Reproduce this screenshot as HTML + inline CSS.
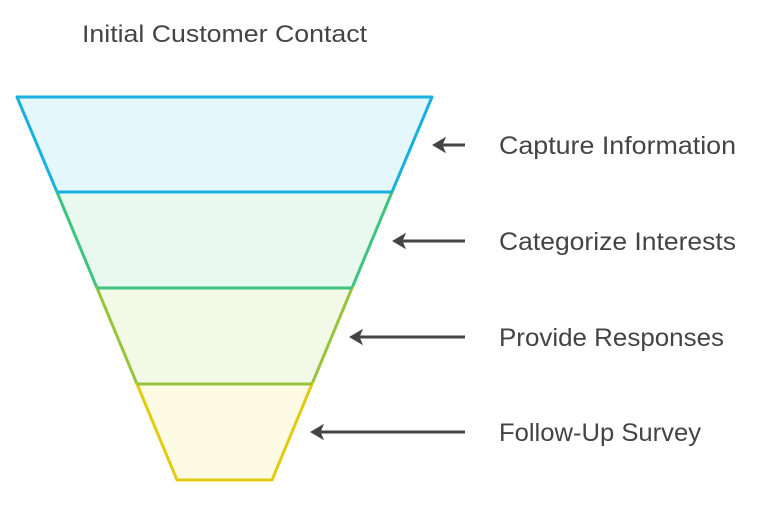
<!DOCTYPE html>
<html><head><style>
html,body{margin:0;padding:0;background:#fff;width:768px;height:514px;overflow:hidden}
</style></head><body>
<svg width="768" height="514" xmlns="http://www.w3.org/2000/svg" font-family="Liberation Sans, sans-serif">
<text x="82" y="42" font-size="24" fill="#444" textLength="285" lengthAdjust="spacingAndGlyphs">Initial Customer Contact</text>
<polygon points="17,97 432,97 392,192 57,192" fill="#e4f7fc" stroke="#19b0e0" stroke-width="3" stroke-linejoin="round"/>
<polygon points="57,192 392,192 352,288 97,288" fill="#e9f9f0" stroke="#3ec47e" stroke-width="3" stroke-linejoin="round"/>
<polygon points="97,288 352,288 312,384 137,384" fill="#f3f9e7" stroke="#97c53a" stroke-width="3" stroke-linejoin="round"/>
<polygon points="137,384 312,384 272,480 177,480" fill="#fefbe4" stroke="#e3cb10" stroke-width="3" stroke-linejoin="round"/>
<polyline points="57,192 392,192" stroke="#19b0e0" stroke-width="3"/>
<polyline points="97,288 352,288" stroke="#3ec47e" stroke-width="3"/>
<polyline points="137,384 312,384" stroke="#97c53a" stroke-width="3"/>
<g stroke="#444" stroke-width="3" fill="#444">
<line x1="465" y1="145" x2="442" y2="145"/><polygon points="433,145 445,138 442,145 445,152" stroke-width="1"/>
<line x1="465" y1="241" x2="402" y2="241"/><polygon points="393,241 405,234 402,241 405,248" stroke-width="1"/>
<line x1="465" y1="337" x2="359" y2="337"/><polygon points="350,337 362,330 359,337 362,344" stroke-width="1"/>
<line x1="465" y1="432" x2="320" y2="432"/><polygon points="311,432 323,425 320,432 323,439" stroke-width="1"/>
</g>
<g font-size="25" fill="#444" lengthAdjust="spacingAndGlyphs">
<text x="499" y="154" textLength="237" lengthAdjust="spacingAndGlyphs">Capture Information</text>
<text x="499" y="250" textLength="237" lengthAdjust="spacingAndGlyphs">Categorize Interests</text>
<text x="499" y="346" textLength="225" lengthAdjust="spacingAndGlyphs">Provide Responses</text>
<text x="499" y="441" textLength="202" lengthAdjust="spacingAndGlyphs">Follow-Up Survey</text>
</g>
</svg>
</body></html>
